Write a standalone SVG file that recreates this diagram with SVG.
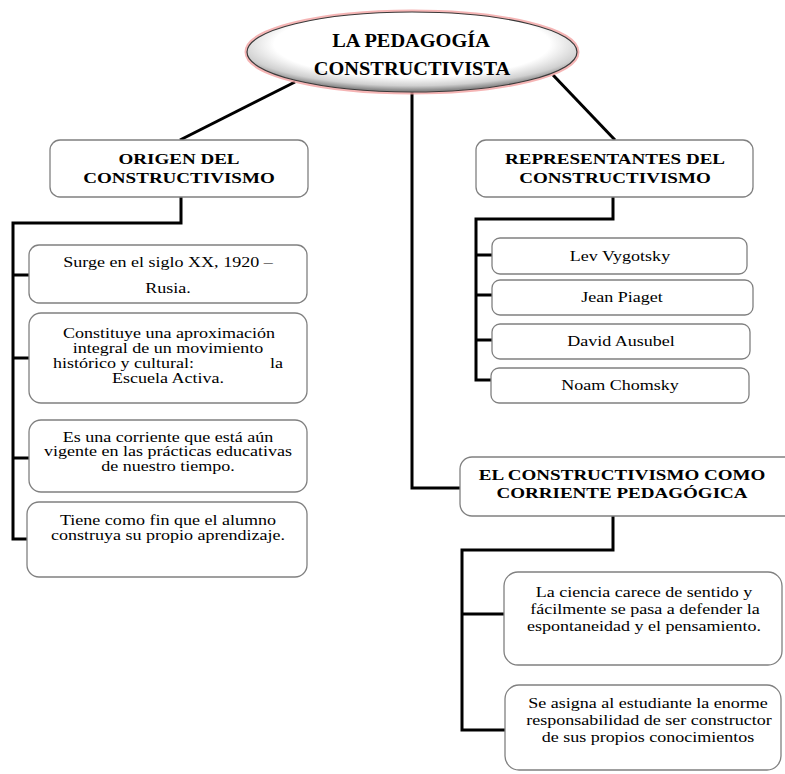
<svg xmlns="http://www.w3.org/2000/svg" width="785" height="774" viewBox="0 0 785 774">
<defs>
<radialGradient id="eg" cx="50%" cy="40%" r="58%">
<stop offset="0" stop-color="#ffffff"/>
<stop offset="0.72" stop-color="#ffffff"/>
<stop offset="0.9" stop-color="#d0d0d0"/>
<stop offset="1" stop-color="#8a8a8a"/>
</radialGradient>
<style>
.box{fill:#ffffff;stroke:#808080;stroke-width:1.3}
.con{fill:none;stroke:#000000;stroke-width:3;stroke-linejoin:miter}
.h{font-family:"Liberation Serif","Times New Roman",serif;font-weight:bold;font-size:15px;text-anchor:middle;fill:#000}
.t{font-family:"Liberation Serif","Times New Roman",serif;font-size:14.2px;text-anchor:middle;fill:#000}
.ti{font-family:"Liberation Serif","Times New Roman",serif;font-weight:bold;font-size:18.5px;text-anchor:middle;fill:#000}
</style>
</defs>
<rect width="785" height="774" fill="#ffffff"/>

<g id="connectors">
<path class="con" d="M412,92 V488 H460"/>
<path class="con" d="M295,82 L180,140" stroke-width="2.6"/>
<path class="con" d="M553,75 L615,140" stroke-width="2.6"/>
<path class="con" d="M181,197 V223 H13 V539 H27 M13,275 H29 M13,358 H29 M13,458 H29"/>
<path class="con" d="M613,197 V219 H476 V380 H491 M476,255 H492 M476,295 H492 M476,340 H492"/>
<path class="con" d="M613,516 V550 H462 V730 H505 M462,614 H504"/>
</g>

<g id="title">
<ellipse cx="412" cy="52" rx="165" ry="40" fill="none" stroke="#f2a3a3" stroke-width="5" stroke-opacity="0.8"/>
<ellipse cx="412" cy="52" rx="165" ry="40" fill="url(#eg)" stroke="#3a3a3a" stroke-width="1.2"/>
<text class="ti" transform="translate(411 0) scale(1.1 1)" x="0" y="47">LA PEDAGOGÍA</text>
<text class="ti" transform="translate(412 0) scale(1.1 1)" x="0" y="75">CONSTRUCTIVISTA</text>
</g>

<g id="origen">
<rect class="box" x="50" y="140" width="258" height="57" rx="10"/>
<text class="h" transform="translate(179 0) scale(1.27 1)" x="0" y="164">ORIGEN DEL</text>
<text class="h" transform="translate(179 0) scale(1.27 1)" x="0" y="183">CONSTRUCTIVISMO</text>
</g>

<g id="o1">
<rect class="box" x="29" y="245" width="278" height="58" rx="10"/>
<text class="t" transform="translate(168 0) scale(1.27 1)" x="0" y="267">Surge en el siglo XX, 1920 –</text>
<text class="t" transform="translate(168 0) scale(1.27 1)" x="0" y="293">Rusia.</text>
</g>

<g id="o2">
<rect class="box" x="29" y="313" width="278" height="90" rx="12"/>
<text class="t" transform="translate(169 0) scale(1.27 1)" x="0" y="338">Constituye una aproximación</text>
<text class="t" transform="translate(168 0) scale(1.27 1)" x="0" y="353">integral de un movimiento</text>
<text class="t" transform="translate(53 0) scale(1.27 1)" x="0" y="368" style="text-anchor:start">histórico y cultural:</text>
<text class="t" transform="translate(283 0) scale(1.27 1)" x="0" y="368" style="text-anchor:end">la</text>
<text class="t" transform="translate(168 0) scale(1.27 1)" x="0" y="383">Escuela Activa.</text>
</g>

<g id="o3">
<rect class="box" x="29" y="420" width="278" height="72" rx="12"/>
<text class="t" transform="translate(168 0) scale(1.27 1)" x="0" y="442">Es una corriente que está aún</text>
<text class="t" transform="translate(168 0) scale(1.27 1)" x="0" y="456.5">vigente en las prácticas educativas</text>
<text class="t" transform="translate(168 0) scale(1.27 1)" x="0" y="471">de nuestro tiempo.</text>
</g>

<g id="o4">
<rect class="box" x="27" y="502" width="280" height="75" rx="12"/>
<text class="t" transform="translate(168 0) scale(1.27 1)" x="0" y="525">Tiene como fin que el alumno</text>
<text class="t" transform="translate(168 0) scale(1.27 1)" x="0" y="540">construya su propio aprendizaje.</text>
</g>

<g id="representantes">
<rect class="box" x="476" y="140" width="277" height="57" rx="10"/>
<text class="h" transform="translate(615 0) scale(1.27 1)" x="0" y="164">REPRESENTANTES DEL</text>
<text class="h" transform="translate(615 0) scale(1.27 1)" x="0" y="183">CONSTRUCTIVISMO</text>
</g>

<g id="lev">
<rect class="box" x="492" y="238" width="255" height="36" rx="8"/>
<text class="t" transform="translate(620 0) scale(1.27 1)" x="0" y="261">Lev Vygotsky</text>
</g>
<g id="jean">
<rect class="box" x="492" y="280" width="261" height="35" rx="8"/>
<text class="t" transform="translate(622 0) scale(1.27 1)" x="0" y="302">Jean Piaget</text>
</g>
<g id="david">
<rect class="box" x="492" y="324" width="258" height="35" rx="8"/>
<text class="t" transform="translate(621 0) scale(1.27 1)" x="0" y="346">David Ausubel</text>
</g>
<g id="noam">
<rect class="box" x="491" y="368" width="258" height="35" rx="8"/>
<text class="t" transform="translate(620 0) scale(1.27 1)" x="0" y="390">Noam Chomsky</text>
</g>

<g id="corriente">
<rect class="box" x="460" y="457" width="345" height="59" rx="12"/>
<text class="h" transform="translate(622 0) scale(1.27 1)" x="0" y="480">EL CONSTRUCTIVISMO COMO</text>
<text class="h" transform="translate(622 0) scale(1.27 1)" x="0" y="498">CORRIENTE PEDAGÓGICA</text>
</g>

<g id="c1">
<rect class="box" x="504" y="572" width="278" height="93" rx="14"/>
<text class="t" transform="translate(644 0) scale(1.27 1)" x="0" y="597">La ciencia carece de sentido y</text>
<text class="t" transform="translate(645 0) scale(1.27 1)" x="0" y="614">fácilmente se pasa a defender la</text>
<text class="t" transform="translate(644 0) scale(1.27 1)" x="0" y="631">espontaneidad y el pensamiento.</text>
</g>

<g id="c2">
<rect class="box" x="505" y="685" width="276" height="85" rx="14"/>
<text class="t" transform="translate(648 0) scale(1.27 1)" x="0" y="708">Se asigna al estudiante la enorme</text>
<text class="t" transform="translate(649 0) scale(1.27 1)" x="0" y="725">responsabilidad de ser constructor</text>
<text class="t" transform="translate(648 0) scale(1.27 1)" x="0" y="742">de sus propios conocimientos</text>
</g>
</svg>
